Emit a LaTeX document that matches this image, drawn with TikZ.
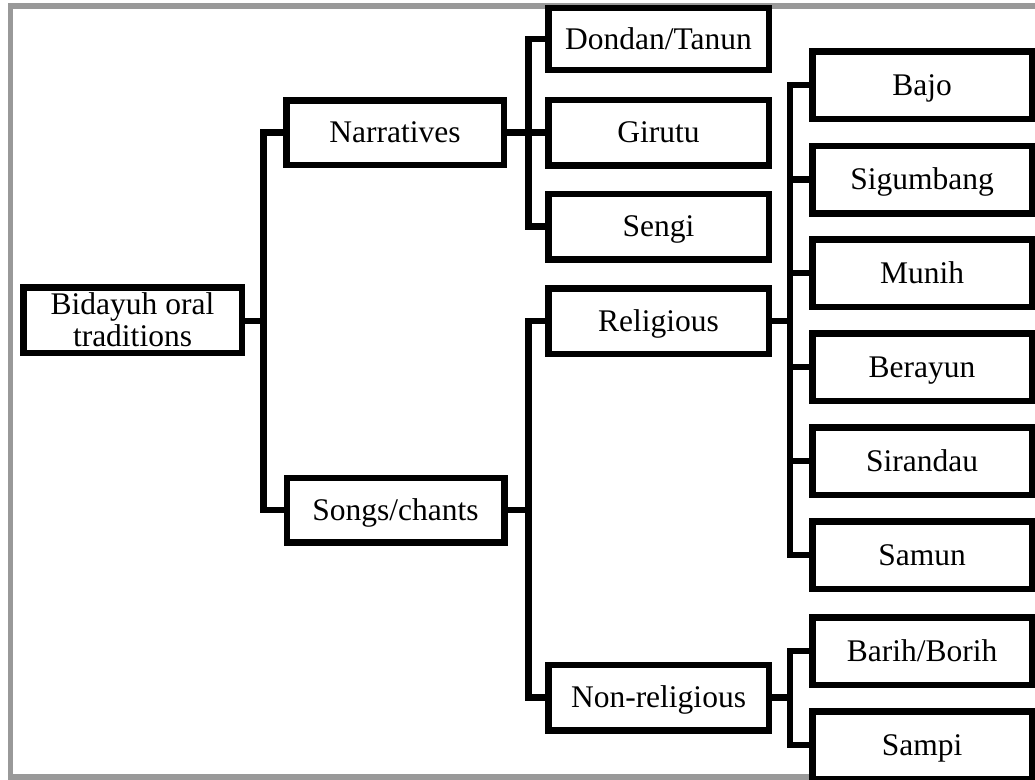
\documentclass[tikz,border=0pt]{standalone}
\usepackage{fontspec}
\setmainfont{Liberation Serif}
\begin{document}
\begin{tikzpicture}[x=1pt,y=-1pt,
  tbox/.style={draw, line width=6.5pt, fill=white, inner sep=0pt, text height=20.5pt, text depth=0pt,
    font=\fontsize{31.5}{32}\selectfont},
  lvB/.style={tbox, minimum width=217.5pt, minimum height=64.5pt},
  lvC/.style={tbox, minimum width=220.5pt, minimum height=65.5pt},
  lvD/.style={tbox, minimum width=219.5pt, minimum height=67.5pt},
  conn/.style={line width=6.5pt},
  frame/.style={draw=black!40, line width=5.5pt}]
\useasboundingbox (0,0) rectangle (1035,779);
\clip (0,0) rectangle (1035,779);
% gray frame
\draw[frame] (1060,6) -- (10.5,6) -- (10.5,777) -- (1060,777);
% nodes
\node[draw, line width=6.5pt, fill=white, inner sep=0pt, minimum width=218.5pt, minimum height=65.5pt,
  align=center, font=\fontsize{31.5}{32}\selectfont] (root) at (132.5,320) {Bidayuh oral\\traditions};
\node[lvB] (narr) at (395,132.5) {Narratives};
\node[lvB] (songs) at (395.5,510) {Songs/chants};
\node[lvC, minimum height=62pt] (dondan) at (658.5,39) {Dondan/Tanun};
\node[lvC] (girutu) at (658.5,132.5) {Girutu};
\node[lvC] (sengi) at (658.5,226.5) {Sengi};
\node[lvC] (relig) at (658.5,321) {Religious};
\node[lvC] (nonrel) at (658.5,697.5) {Non-religious};
\node[lvD] (bajo) at (922,85) {Bajo};
\node[lvD] (sigum) at (922,179.5) {Sigumbang};
\node[lvD] (munih) at (922,273) {Munih};
\node[lvD] (berayun) at (922,367) {Berayun};
\node[lvD] (sirandau) at (922,461) {Sirandau};
\node[lvD] (samun) at (922,555) {Samun};
\node[lvD] (barih) at (922,651) {Barih/Borih};
\node[lvD] (sampi) at (922,745) {Sampi};
% junctions
\coordinate (t1) at (263.5,321);
\coordinate (t2) at (528.5,132.5);
\coordinate (t3) at (528.5,510);
\coordinate (t4) at (790,321);
\coordinate (t5) at (790,697.5);
% connectors
\draw[conn] (root.east |- t1) -- (t1);
\draw[conn] (narr.west) -| (t1) |- (songs.west);
\draw[conn] (narr.east) -- (girutu.west);
\draw[conn] (dondan.west) -| (t2) |- (sengi.west);
\draw[conn] (songs.east) -- (t3);
\draw[conn] (relig.west) -| (t3) |- (nonrel.west);
\draw[conn] (relig.east) -- (t4);
\draw[conn] (bajo.west) -| (t4) |- (samun.west);
\draw[conn] (sigum.west) -- (t4 |- sigum.west);
\draw[conn] (munih.west) -- (t4 |- munih.west);
\draw[conn] (berayun.west) -- (t4 |- berayun.west);
\draw[conn] (sirandau.west) -- (t4 |- sirandau.west);
\draw[conn] (nonrel.east) -- (t5);
\draw[conn] (barih.west) -| (t5) |- (sampi.west);
\end{tikzpicture}
\end{document}
